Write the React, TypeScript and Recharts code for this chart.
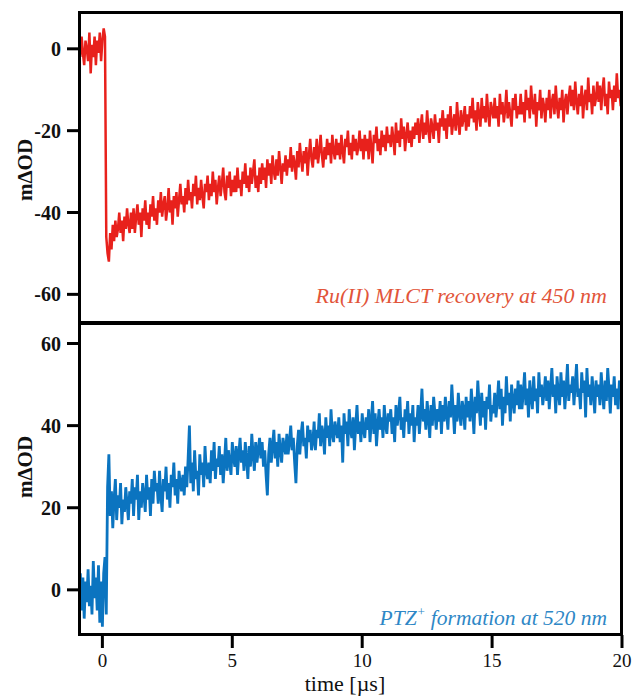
import React from 'react'
import { LineChart, Line, XAxis, YAxis } from 'recharts'

// digitiser time base, µs (one sample every 0.05 µs from -0.9)
const T_START = -0.9
const T_STEP = 0.05

// Ru(II) MLCT recovery at 450 nm, mΔOD (one row per µs)
const ruTrace = [
  1, -2, 3, -1, -4, 2, 0, -3, 4, -6, 1, -2, 3, -4, 2, -1, 4, -3, 2, 5,
  3, -46, -50, -52, -45, -49, -43, -47, -42, -46, -44, -40, -45, -42, -47, -41, -44, -39, -43, -45,
  -40, -44, -39, -45, -41, -38, -43, -40, -46, -39, -42, -37, -43, -40, -44, -38, -41, -36, -42, -39,
  -43, -37, -40, -35, -41, -38, -36, -42, -39, -34, -40, -37, -43, -36, -39, -35, -41, -37, -33, -38,
  -36, -40, -34, -38, -32, -37, -35, -39, -33, -36, -31, -38, -34, -37, -32, -36, -39, -33, -35, -31,
  -37, -33, -36, -30, -35, -32, -38, -34, -31, -36, -33, -29, -35, -37, -31, -34, -30, -36, -32, -35,
  -31, -35, -29, -34, -32, -36, -30, -33, -28, -34, -31, -35, -29, -33, -30, -27, -34, -31, -35, -29,
  -33, -28, -32, -29, -34, -27, -31, -28, -33, -26, -30, -32, -27, -31, -25, -29, -33, -28, -30, -26,
  -31, -27, -29, -24, -30, -26, -28, -32, -25, -29, -23, -27, -30, -25, -28, -24, -31, -26, -22, -27,
  -29, -24, -27, -22, -28, -25, -21, -26, -29, -24, -27, -22, -26, -23, -28, -21, -25, -27, -22, -26,
  -23, -27, -21, -25, -28, -22, -24, -20, -26, -23, -27, -21, -25, -22, -26, -24, -20, -25, -22, -27,
  -21, -25, -22, -27, -20, -24, -28, -21, -23, -19, -25, -22, -26, -20, -24, -21, -25, -19, -23, -21,
  -24, -19, -22, -26, -18, -23, -20, -24, -17, -22, -19, -25, -21, -18, -23, -20, -24, -19, -22, -18,
  -21, -17, -23, -19, -16, -22, -18, -21, -15, -20, -23, -17, -19, -22, -16, -20, -18, -23, -17, -19,
  -15, -20, -17, -22, -16, -19, -14, -21, -18, -16, -20, -13, -18, -21, -15, -19, -17, -14, -20, -16,
  -19, -14, -17, -12, -18, -15, -20, -13, -16, -19, -12, -17, -14, -18, -11, -16, -19, -13, -15, -17,
  -12, -17, -14, -19, -11, -16, -13, -18, -15, -10, -17, -13, -16, -19, -12, -15, -11, -17, -14, -16,
  -11, -16, -13, -18, -10, -15, -12, -17, -9, -14, -16, -11, -19, -13, -15, -10, -17, -12, -14, -18,
  -12, -15, -10, -17, -13, -11, -16, -9, -14, -17, -12, -15, -10, -18, -13, -11, -16, -12, -9, -14,
  -10, -15, -8, -13, -16, -11, -14, -9, -17, -12, -10, -15, -7, -13, -11, -16, -9, -14, -12, -8,
  -13, -9, -15, -10, -7, -14, -11, -16, -8, -12, -10, -15, -9, -13, -6, -12, -10, -14, -9,
]

// PTZ+ formation at 520 nm, mΔOD (one row per µs)
const ptzTrace = [
  -2, 4, -5, 3, -7, 2, -3, 5, -4, 1, -6, 7, -2, 3, -5, 6, -8, 2, -9, 4,
  8, -6, 25, 33, 18, 24, 15, 22, 27, 17, 23, 20, 26, 16, 22, 19, 25, 21, 17, 24,
  21, 27, 18, 25, 22, 28, 17, 24, 20, 26, 23, 19, 28, 22, 25, 18, 27, 21, 29, 24,
  26, 21, 29, 23, 19, 27, 24, 30, 22, 26, 20, 28, 25, 31, 23, 27, 21, 29, 26, 24,
  28, 23, 30, 25, 32, 40, 26, 31, 24, 34, 27, 29, 23, 33, 28, 31, 25, 35, 29, 27,
  31, 26, 34, 29, 36, 27, 32, 30, 35, 28, 33, 26, 31, 37, 29, 34, 31, 28, 36, 32,
  30, 35, 28, 33, 37, 31, 34, 29, 36, 32, 27, 35, 30, 38, 33, 29, 36, 31, 34, 37,
  32, 36, 30, 34, 28, 23, 33, 37, 31, 35, 39, 32, 36, 30, 38, 34, 31, 37, 35, 33,
  38, 33, 36, 40, 34, 37, 31, 26, 35, 39, 33, 38, 41, 35, 37, 32, 40, 36, 39, 34,
  36, 41, 34, 39, 37, 43, 35, 40, 38, 33, 42, 37, 40, 35, 44, 38, 36, 41, 39, 37,
  42, 36, 40, 31, 43, 38, 41, 35, 44, 39, 37, 42, 34, 40, 45, 38, 41, 36, 43, 39,
  37, 42, 39, 44, 36, 41, 46, 38, 43, 35, 40, 44, 39, 42, 37, 45, 40, 38, 43, 41,
  44, 38, 42, 36, 45, 40, 43, 47, 39, 42, 37, 44, 41, 46, 38, 43, 40, 45, 36, 42,
  40, 45, 38, 43, 49, 41, 44, 39, 46, 42, 37, 45, 40, 47, 43, 39, 44, 41, 46, 38,
  45, 41, 47, 43, 39, 46, 42, 50, 44, 38, 45, 41, 48, 43, 40, 46, 44, 39, 47, 42,
  46, 41, 49, 44, 38, 47, 43, 51, 45, 40, 48, 42, 46, 39, 47, 44, 50, 41, 45, 43,
  48, 42, 46, 51, 44, 49, 40, 47, 43, 52, 45, 48, 41, 50, 46, 43, 49, 45, 51, 44,
  50, 44, 48, 53, 45, 49, 42, 51, 47, 44, 52, 46, 49, 43, 53, 47, 50, 45, 48, 52,
  46, 51, 44, 49, 54, 47, 50, 43, 52, 48, 45, 53, 47, 51, 44, 49, 55, 46, 50, 48,
  52, 45, 50, 55, 47, 49, 44, 53, 48, 51, 42, 54, 47, 50, 45, 52, 48, 43, 51, 47,
  50, 45, 53, 48, 44, 51, 46, 54, 49, 43, 50, 47, 52, 45, 49, 44, 51, 47, 48,
]

const xTicks = [0, 5, 10, 15, 20]
const ruTicks = [-60, -40, -20, 0]
const ptzTicks = [0, 20, 40, 60]

const toPoints = (vals: number[]) =>
  vals.map((v, i) => ({ t: +(T_START + i * T_STEP).toFixed(2), v }))

const serif = '"Liberation Serif", "Times New Roman", serif'
const tickLine = { stroke: '#000', strokeWidth: 3 }
const yTickStyle = { fontSize: 20, fill: '#111', fontFamily: serif, fontWeight: 700 }
const xTickStyle = { fontSize: 19, fill: '#111', fontFamily: serif }

const frame = (top: number, height: number): React.CSSProperties => ({
  position: 'absolute',
  left: 78,
  top,
  width: 545,
  height,
  border: '3px solid #000',
  boxSizing: 'border-box',
  pointerEvents: 'none',
})

const yTitle = (y: number): React.CSSProperties => ({
  position: 'absolute',
  left: 25,
  top: y,
  transform: 'translate(-50%, -50%) rotate(-90deg)',
  fontFamily: serif,
  fontWeight: 700,
  fontSize: 21,
  color: '#111',
  whiteSpace: 'nowrap',
})

const note = (top: number, size: number, color: string): React.CSSProperties => ({
  position: 'absolute',
  right: 28,
  top,
  fontFamily: serif,
  fontStyle: 'italic',
  fontSize: size,
  color,
  whiteSpace: 'nowrap',
  lineHeight: '24px',
})

export default function App() {
  const ruData = toPoints(ruTrace)
  const ptzData = toPoints(ptzTrace)

  return (
    <div style={{ position: 'absolute', left: 0, top: 0, width: 635, height: 696, background: '#fff' }}>
      <div style={{ position: 'absolute', left: 0, top: 0 }}>
        <LineChart width={635} height={323} data={ruData} margin={{ top: 12, right: 13, bottom: 0, left: 0 }}>
          <XAxis type="number" dataKey="t" domain={[-0.9, 20]} allowDataOverflow hide />
          <YAxis
            type="number"
            domain={[-67, 9]}
            ticks={ruTicks}
            allowDataOverflow
            width={79}
            axisLine={false}
            tickLine={tickLine}
            tickSize={12}
            tickMargin={6}
            tick={yTickStyle}
          />
          <Line type="linear" dataKey="v" stroke="#e8211c" strokeWidth={2.5} dot={false} isAnimationActive={false} />
        </LineChart>
      </div>

      <div style={{ position: 'absolute', left: 0, top: 323 }}>
        <LineChart width={635} height={373} data={ptzData} margin={{ top: 0, right: 13, bottom: 0, left: 0 }}>
          <XAxis
            type="number"
            dataKey="t"
            domain={[-0.9, 20]}
            ticks={xTicks}
            allowDataOverflow
            height={61}
            axisLine={false}
            tickLine={tickLine}
            tickSize={13}
            tickMargin={6}
            tick={xTickStyle}
          />
          <YAxis
            type="number"
            domain={[-11, 65]}
            ticks={ptzTicks}
            allowDataOverflow
            width={79}
            axisLine={false}
            tickLine={tickLine}
            tickSize={12}
            tickMargin={6}
            tick={yTickStyle}
          />
          <Line type="linear" dataKey="v" stroke="#0b74c0" strokeWidth={2.8} dot={false} isAnimationActive={false} />
        </LineChart>
      </div>

      <div style={frame(11, 313)} />
      <div style={frame(322, 314)} />

      <div style={yTitle(170)}>mΔOD</div>
      <div style={yTitle(467)}>mΔOD</div>

      <div style={note(284, 22, '#e2553a')}>Ru(II) MLCT recovery at 450 nm</div>
      <div style={note(600, 21.5, '#2e87c6')}>
        PTZ<sup style={{ fontSize: 13, verticalAlign: 9 }}>+</sup> formation at 520 nm
      </div>

      <div
        style={{
          position: 'absolute',
          left: 345,
          top: 673,
          transform: 'translateX(-50%)',
          fontFamily: serif,
          fontSize: 22,
          color: '#111',
          whiteSpace: 'nowrap',
          lineHeight: '22px',
        }}
      >
        time [µs]
      </div>
    </div>
  )
}
